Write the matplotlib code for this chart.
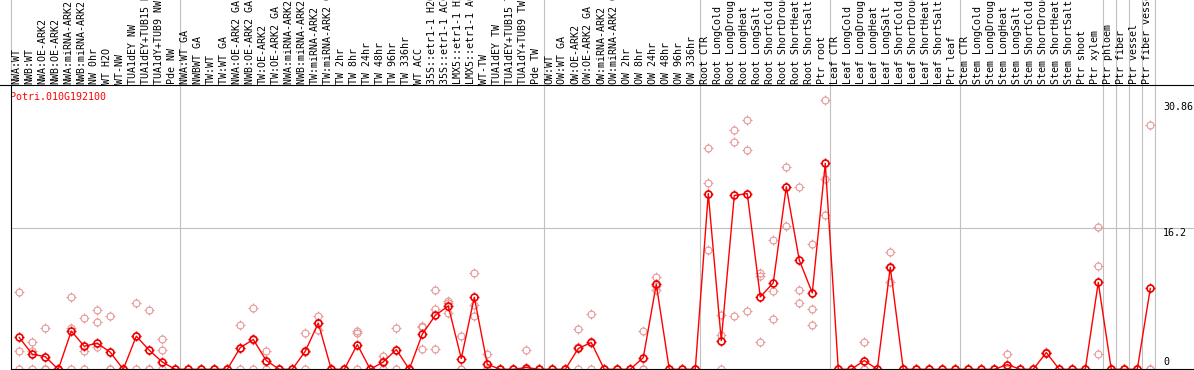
import numpy as np
import matplotlib
matplotlib.use('Agg')
import matplotlib.pyplot as plt
from matplotlib.path import Path

gene = 'Potri.010G192100'

labels = ['NWA:WT', 'NWB:WT', 'NWA:OE-ARK2', 'NWB:OE-ARK2', 'NWA:miRNA-ARK2', 'NWB:miRNA-ARK2',
          'NW 0hr', 'WT H2O', 'WT-NW', 'TUA1dEY NW', 'TUA1dEY+TUB15 NW', 'TUA1dY+TUB9 NW', 'Pde NW',
          'NWA:WT GA', 'NWBWT GA', 'TW:WT', 'TW:WT GA', 'NWA:OE-ARK2 GA', 'NWB:OE-ARK2 GA',
          'TW:OE-ARK2', 'TW:OE-ARK2 GA', 'NWA:miRNA-ARK2 GA', 'NWB:miRNA-ARK2 GA', 'TW:miRNA-ARK2',
          'TW:miRNA-ARK2 GA', 'TW 2hr', 'TW 8hr', 'TW 24hr', 'TW 48hr', 'TW 96hr', 'TW 336hr',
          'WT ACC', '35S::etr1-1 H2O', '35S::etr1-1 ACC', 'LMX5::etr1-1 H2O', 'LMX5::etr1-1 ACC',
          'WT-TW', 'TUA1dEY TW', 'TUA1dEY+TUB15 TW', 'TUA1dY+TUB9 TW', 'Pde TW',
          'OW:WT', 'OW:WT GA', 'OW:OE-ARK2', 'OW:OE-ARK2 GA', 'OW:miRNA-ARK2', 'OW:miRNA-ARK2 GA',
          'OW 2hr', 'OW 8hr', 'OW 24hr', 'OW 48hr', 'OW 96hr', 'OW 336hr',
          'Root CTR', 'Root LongCold', 'Root LongDrought', 'Root LongHeat', 'Root LongSalt',
          'Root ShortCold', 'Root ShortDrought', 'Root ShortHeat', 'Root ShortSalt', 'Ptr root',
          'Leaf CTR', 'Leaf LongCold', 'Leaf LongDrought', 'Leaf LongHeat', 'Leaf LongSalt',
          'Leaf ShortCold', 'Leaf ShortDrought', 'Leaf ShortHeat', 'Leaf ShortSalt', 'Ptr leaf',
          'Stem CTR', 'Stem LongCold', 'Stem LongDrought', 'Stem LongHeat', 'Stem LongSalt',
          'Stem ShortCold', 'Stem ShortDrought', 'Stem ShortHeat', 'Stem ShortSalt', 'Ptr shoot',
          'Ptr xylem', 'Ptr phloem', 'Ptr fiber', 'Ptr vessel', 'Ptr fiber vessel']

# group boundaries (index of first sample after each separator)
group_breaks = [13, 41, 53, 63, 73, 84, 85, 86, 87, 88]

mean_expr = [3.64, 1.72, 1.45, 0, 4.37, 2.64, 2.99, 1.95, 0, 3.79, 2.18, 0.84, 0,
             0, 0, 0, 0, 2.49, 3.41, 1.0, 0, 0, 2.07, 5.29, 0, 0, 2.83, 0, 0.84, 2.26, 0,
             4.02, 6.17, 7.24, 1.23, 8.24, 0.57, 0, 0, 0.2, 0,
             0, 0, 2.38, 3.07, 0, 0, 0, 1.34, 9.73, 0, 0, 0,
             20.11, 3.29, 19.89, 20.11, 8.28, 9.89, 20.88, 12.49, 8.74, 23.56,
             0, 0, 1.0, 0, 11.67, 0, 0, 0, 0, 0,
             0, 0, 0, 0.54, 0, 0, 1.92, 0, 0, 0, 9.94,
             0, 0, 0, 9.25]

rep1 = [8.9, 3.1, 4.67, 0, 8.24, 5.82, 6.74, 6.09, 0, 7.55, 6.74, 3.41, 0,
        0, 0, 0, 0, 5.06, 6.97, 2.15, 0, 0, 4.1, 6.09, 0, 0, 4.37, 0, 1.49, 4.67, 0,
        4.87, 9.08, 7.82, 3.79, 11.0, 1.72, 0, 0, 2.26, 0,
        0, 0, 4.56, 6.29, 0, 0, 0, 4.37, 10.57, 0, 0, 0,
        25.36, 6.2, 27.43, 28.58, 11.07, 14.79, 23.18, 20.88, 14.37, 30.86,
        0, 0, 3.07, 0, 13.46, 0, 0, 0, 0, 0,
        0, 0, 0, 1.8, 0, 0, 1.95, 0, 0, 0, 16.28,
        0, 0, 0, 28.0]

rep2 = [2.15, 2.15, 0, 0, 4.75, 2.15, 5.36, 0, 0, 3.8, 0, 2.26, 0,
        0, 0, 0, 0, 2.4, 3.3, 0.9, 0, 0, 2.0, 4.48, 0, 0, 4.1, 0, 0.9, 2.2, 0,
        2.34, 6.9, 6.47, 0, 7.36, 0, 0, 0, 0, 0,
        0, 0, 0, 3.0, 0, 0, 0, 0, 9.08, 0, 0, 0,
        21.26, 3.9, 26.05, 25.13, 10.69, 8.97, 16.4, 9.08, 6.9, 21.72,
        0, 0, 0, 0, 9.94, 0, 0, 0, 0, 0,
        0, 0, 0, 0, 0, 0, 1.85, 0, 0, 0, 11.79,
        0, 0, 0, 0]

rep3 = [0, 0, 0, 0, 0, 0, 2.56, 0, 0, 0, 0, 0, 0,
        0, 0, 0, 0, 0, 0, 0, 0, 0, 0, 5.3, 0, 0, 0, 0, 0, 0, 0,
        4.9, 2.34, 7.6, 0, 6.13, 0, 0, 0, 0, 0,
        0, 0, 2.5, 0, 0, 0, 0, 0, 9.5, 0, 0, 0,
        13.64, 0, 6.05, 6.67, 3.1, 5.75, 20.9, 7.59, 5.02, 17.66,
        0, 0, 0, 0, 11.6, 0, 0, 0, 0, 0,
        0, 0, 0, 0, 0, 0, 1.9, 0, 0, 0, 1.8,
        0, 0, 0, 0]

y_ticks = [30.86, 16.2, 0]

W, H = 1194, 370
X0, CW = 10.7, 13.0      # left edge and column width in pixels
Y0, S = 369.3, 8.74      # pixel row of value 0 and pixels per unit


def px_x(p):
    return (p - X0) / CW


def px_y(p):
    return (Y0 - p) / S


# four little ticks around each circle, like the original marker
verts, codes = [], []
for dx, dy in [(1, 0), (-1, 0), (0, 1), (0, -1)]:
    verts += [(dx * 0.68, dy * 0.68), (dx * 1.0, dy * 1.0)]
    codes += [Path.MOVETO, Path.LINETO]
ticks = Path(verts, codes)

fig = plt.figure(figsize=(W / 100, H / 100), dpi=100)
ax = fig.add_axes([0, 0, 1, 1])
ax.set_xlim(px_x(0), px_x(W))
ax.set_ylim(px_y(H), px_y(0))
ax.axis('off')

font = dict(family='DejaVu Sans Mono', fontsize=7.2)
top_val = px_y(85)
x = np.arange(len(labels)) + 0.66

# frame and grid
ax.axhline(top_val, color='black', lw=0.8, zorder=5)
ax.axhline(0, xmin=(X0 / W), color='black', lw=0.8, zorder=5)
ax.axvline(0, ymin=(H - 85) / H, color='#c0c0c0', lw=0.8)
ax.axvline(0, ymax=(H - 85) / H, color='black', lw=0.8, zorder=5)
for b in group_breaks:
    ax.axvline(b, color='#c0c0c0', lw=0.8, zorder=1)
ax.axhline(16.2, xmin=(X0 / W), color='#c0c0c0', lw=0.8, zorder=1)

# replicates
for rep in (rep1, rep2, rep3):
    ax.plot(x, rep, ls='none', marker='o', ms=5.0, mfc='none', mec='#e89898',
            mew=0.8, zorder=2)
    ax.plot(x, rep, ls='none', marker=ticks, ms=7.4, mec='#e89898', mew=0.8, zorder=2)

# mean
ax.plot(x, mean_expr, color='#ff0000', lw=1.0, marker='o', ms=5.0, mfc='none',
        mec='#ee0000', mew=1.2, zorder=3)
ax.plot(x, mean_expr, ls='none', marker=ticks, ms=7.4, mec='#ee0000', mew=1.0, zorder=3)

for i, lab in enumerate(labels):
    ax.text(i + 0.42, px_y(83.5), lab, rotation=90, ha='center', va='bottom',
            color='black', **font)

ax.text(px_x(9.5), px_y(97), gene, ha='left', va='center', color='#ff0000', **font)

for val, yp in zip(y_ticks, [107, 233, 362]):
    ax.text(px_x(1163), px_y(yp), f'{val:g}', ha='left', va='center', color='black', **font)

fig.savefig('out.png', dpi=100)
